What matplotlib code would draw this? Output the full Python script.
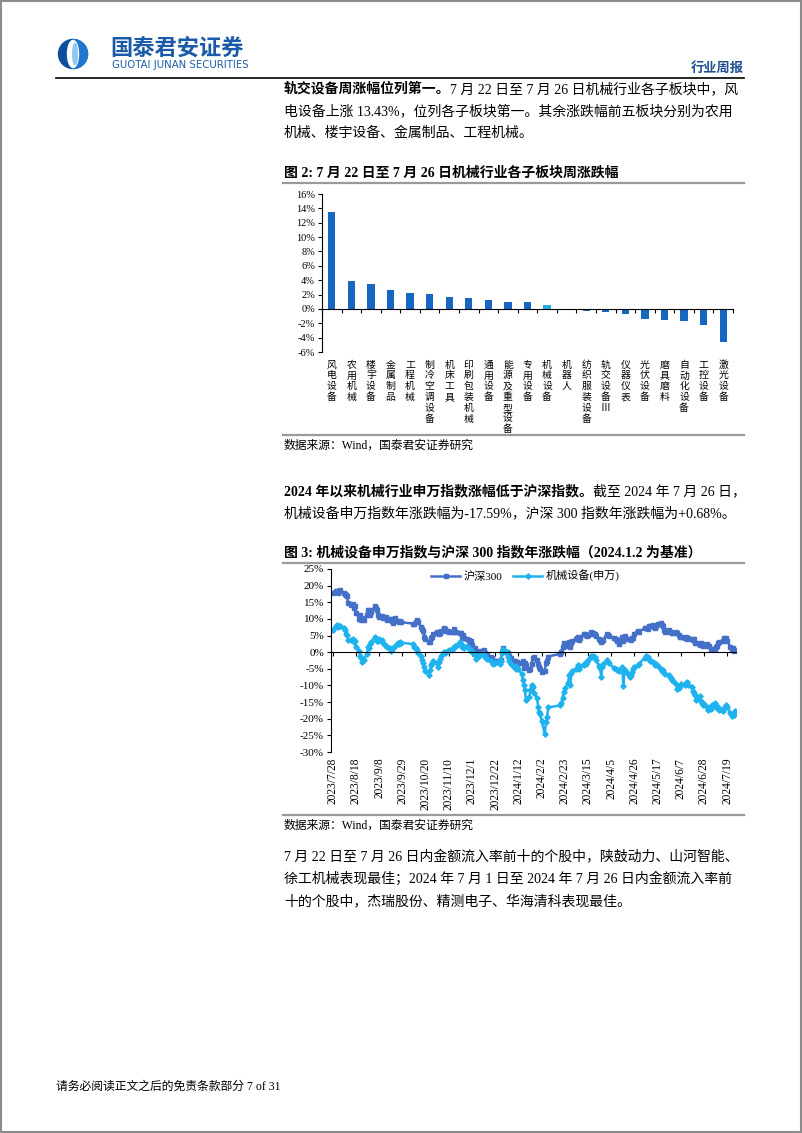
import numpy as np
import pandas as pd
import matplotlib
matplotlib.use('Agg')
import matplotlib.pyplot as plt
from matplotlib.patches import Circle, Ellipse, Wedge, Rectangle

W, H = 802, 1133
SERIF = ['Liberation Serif', 'Noto Sans CJK SC']
CJK = ['Noto Sans CJK SC', 'DejaVu Sans']

# 图2: 各子板块周涨跌幅 (%)
sectors = ['风电设备', '农用机械', '楼宇设备', '金属制品', '工程机械', '制冷空调设备', '机床工具',
           '印刷包装机械', '通用设备', '能源及重型设备', '专用设备', '机械设备', '机器人', '纺织服装设备',
           '轨交设备Ⅲ', '仪器仪表', '光伏设备', '磨具磨料', '自动化设备', '工控设备', '激光设备']
weekly_chg = [13.43, 3.9, 3.4, 2.7, 2.2, 2.1, 1.6, 1.45, 1.2, 0.98, 0.93, 0.6, 0.01, -0.3,
              -0.4, -0.65, -1.4, -1.5, -1.7, -2.2, -4.6]
highlight = '机械设备'

# 图3: 年涨跌幅 (%), 按月份列出交易日数值
holidays = ['2023-09-29', '2023-10-02', '2023-10-03', '2023-10-04', '2023-10-05', '2023-10-06',
            '2024-01-01', '2024-02-09', '2024-02-12', '2024-02-13', '2024-02-14', '2024-02-15',
            '2024-02-16', '2024-04-04', '2024-04-05', '2024-05-01', '2024-05-02', '2024-05-03',
            '2024-06-10']
hs300 = [
    [17.9, 18.5],
    [18.4, 17.9, 18.3, 18.6, 17.9, 17.6, 17.1, 16.9, 14.8, 14.2, 14.5, 13.4, 14.0, 11.9, 10.1, 11.2,
     9.6, 10.3, 9.6, 11.2, 12.7, 12.6, 11.3],
    [12.2, 13.8, 13.3, 12.8, 11.3, 10.5, 10.9, 10.3, 10.2, 10.6, 9.6, 9.9, 10.0, 9.3, 8.9, 10.4, 9.4,
     9.0, 9.5, 9.0],
    [8.6, 8.6, 9.1, 9.7, 9.0, 7.7, 7.0, 6.4, 4.6, 4.0, 3.0, 3.2, 4.2, 4.6, 5.6, 6.0, 5.8],
    [5.6, 5.9, 6.5, 7.2, 7.0, 6.5, 6.3, 6.0, 6.2, 6.2, 7.0, 6.0, 6.1, 5.8, 5.8, 4.6, 5.2, 4.2, 3.9,
     3.6, 3.1, 3.3],
    [2.2, 1.2, -0.1, 0.2, -0.2, 0.4, 0.5, 0.8, -0.3, -1.0, -0.7, -1.5, -1.7, -3.2, -2.7, -2.8, -2.5,
     -2.9, -2.4, 0.2, 1.3],
    [0.0, -0.2, -1.1, -1.6, -2.8, -2.5, -3.3, -2.9, -3.3, -3.3, -2.8, -4.8, -3.4, -3.8, -5.5, -5.1,
     -3.7, -1.7, -1.3, -2.2, -3.7, -4.6],
    [-5.2, -6.1, -5.6, -3.4, -2.6, -1.3, -0.5, 0.2, 1.6, 2.8, 2.5, 1.9, 3.1, 1.6, 2.9],
    [3.4, 3.9, 4.4, 4.6, 3.8, 4.2, 5.6, 5.6, 5.1, 4.8, 5.3, 6.0, 5.6, 5.8, 5.5, 4.9, 4.0, 3.8, 3.0,
     3.4, 3.8],
    [5.6, 5.2, 4.9, 4.3, 4.0, 3.3, 3.6, 2.5, 4.5, 3.5, 4.2, 4.8, 4.0, 4.1, 3.6, 4.4, 4.3, 5.6, 6.5,
     6.1],
    [7.4, 7.3, 7.0, 8.0, 7.8, 8.2, 7.6, 7.2, 7.9, 8.6, 8.9, 8.3, 7.9, 6.8, 6.2, 6.6, 6.2, 6.0, 5.7,
     5.9],
    [6.1, 5.8, 5.2, 4.6, 4.5, 4.4, 4.6, 4.1, 4.4, 4.0, 3.8, 3.9, 2.8, 2.7, 2.3, 2.9, 2.6, 1.9, 2.3],
    [2.6, 2.0, 1.8, 0.9, 1.0, 0.9, 1.6, 1.8, 2.9, 3.1, 3.4, 4.3, 4.0, 4.4, 3.3, 1.6, 1.0, 1.3, 0.5,
     0.68],
]
jixie = [
    [6.8, 7.9],
    [8.1, 7.6, 7.8, 7.9, 7.2, 6.8, 5.6, 5.2, 3.8, 3.6, 3.9, 3.0, 3.5, 1.6, 0.3, -1.0, -1.8, -3.1,
     -2.4, -0.6, 1.5, 1.2, 2.4],
    [3.2, 4.5, 4.0, 3.4, 3.5, 3.9, 3.6, 2.8, 2.2, 2.0, 1.6, 1.2, 0.4, 1.0, 1.4, 2.0, 2.9, 2.6, 3.0,
     2.9],
    [2.4, 1.6, 1.2, 0.8, -0.3, -1.2, -2.2, -3.4, -4.6, -5.8, -6.8, -5.5, -4.0, -3.2, -2.6, -3.4, -4.5],
    [-3.0, -1.9, -1.0, 0.2, -0.2, 0.1, 0.5, 0.8, 0.6, 1.2, 1.6, 1.9, 2.0, 3.2, 2.5, 1.6, 1.9, 1.4,
     1.9, 1.3, 0.8, 0.5],
    [0.0, -0.8, -1.9, -1.2, -1.0, -0.5, -0.6, -0.9, -1.3, -1.8, -2.0, -2.6, -2.5, -3.6, -3.2, -3.4,
     -3.0, -3.7, -2.5, -0.3, 0.9],
    [0.0, -1.4, -2.8, -3.6, -4.6, -4.2, -5.2, -4.4, -5.0, -6.5, -8.3, -10.0, -11.5, -14.5, -13.6,
     -11.4, -9.8, -10.4, -12.2, -13.8, -16.6, -18.0],
    [-18.6, -20.6, -24.7, -21.0, -19.6, -16.6, -16.0, -15.2, -13.8, -12.0, -10.8, -9.4, -6.8, -10.0,
     -6.4],
    [-5.6, -5.2, -4.9, -4.0, -5.0, -4.3, -3.8, -3.2, -3.6, -3.0, -2.4, -1.2, -1.5, -1.0, -1.4, -2.2,
     -4.2, -4.8, -7.4, -4.6, -3.6],
    [-2.3, -2.9, -3.4, -4.8, -5.1, -5.5, -5.3, -5.7, -4.6, -10.1, -5.8, -5.4, -6.4, -7.5, -6.8, -6.0,
     -5.0, -4.5, -3.8, -3.5],
    [-1.6, -1.0, -1.5, -1.9, -2.5, -3.0, -3.4, -3.9, -3.5, -4.2, -5.0, -5.6, -5.4, -6.2, -6.6, -7.0,
     -7.6, -7.8, -8.4, -8.8],
    [-9.6, -11.0, -10.8, -10.2, -9.6, -10.0, -9.4, -9.1, -9.8, -10.6, -11.8, -12.4, -13.0, -14.4,
     -13.2, -14.6, -15.3, -16.0, -15.5],
    [-16.6, -17.3, -16.8, -17.2, -16.0, -15.4, -16.3, -16.9, -16.4, -17.3, -17.6, -16.9, -16.5,
     -16.0, -16.5, -18.3, -19.2, -18.6, -18.9, -17.59],
]

days = pd.bdate_range('2023-07-28', '2024-07-26')
days = days[~days.isin(pd.to_datetime(holidays))]
hs = np.concatenate(hs300)
jx = np.concatenate(jixie)

fig = plt.figure(figsize=(W / 100, H / 100), dpi=100)
page = fig.add_axes([0, 0, 1, 1])
page.set_xlim(0, W)
page.set_ylim(H, 0)
page.axis('off')
renderer = fig.canvas.get_renderer()

# 页面边框
page.add_patch(Rectangle((0.7, 0.7), W - 1.4, H - 1.4, fill=False, ec='#8c8c8c', lw=1.5))

# 页眉: logo
page.add_patch(Circle((73, 54), 14.5, color='#0d4f9e'))
page.add_patch(Wedge((73, 54), 14.5, -90, 90, color='#1f78cf'))
page.add_patch(Ellipse((73, 54), 11, 27, color='white'))
page.add_patch(Ellipse((75, 54), 4.5, 21, color='#8fc8ef'))
page.text(110, 49.5, '国泰君安证券', fontsize=16, family=CJK, weight='bold', color='#1a5aa8',
          va='center', ha='left')
page.text(112, 65.5, 'GUOTAI JUNAN SECURITIES', fontsize=7.3, family=['DejaVu Sans'], color='#1a5aa8',
          va='center', ha='left')
page.text(744, 68, '行业周报', fontsize=9.5, family=CJK, weight='bold', color='#1d4f91',
          va='center', ha='right')
page.plot([56, 744], [77.5, 77.5], color='black', lw=1.2)


def put_line(x, y, parts, size=10.0):
    for txt, bold in parts:
        t = page.text(x, y, txt, fontsize=size, family=SERIF, weight='bold' if bold else 'normal',
                      va='baseline', ha='left', color='black')
        bb = t.get_window_extent(renderer)
        x = page.transData.inverted().transform((bb.x1, bb.y0))[0]


put_line(284, 93, [('轨交设备周涨幅位列第一。', True), ('7 月 22 日至 7 月 26 日机械行业各子板块中，风', False)])
put_line(284, 115, [('电设备上涨 13.43%，位列各子板块第一。其余涨跌幅前五板块分别为农用', False)])
put_line(284, 137, [('机械、楼宇设备、金属制品、工程机械。', False)])

put_line(284, 177, [('图 2: 7 月 22 日至 7 月 26 日机械行业各子板块周涨跌幅', True)], size=10)
page.plot([283, 744], [183, 183], color='#9a9a9a', lw=1.6)
page.plot([283, 744], [435, 435], color='#9a9a9a', lw=1.6)
put_line(284, 449, [('数据来源：Wind，国泰君安证券研究', False)], size=8.5)

put_line(284, 495, [('2024 年以来机械行业申万指数涨幅低于沪深指数。', True), ('截至 2024 年 7 月 26 日，', False)])
put_line(284, 517, [('机械设备申万指数年涨跌幅为-17.59%，沪深 300 指数年涨跌幅为+0.68%。', False)])

put_line(284, 556, [('图 3: 机械设备申万指数与沪深 300 指数年涨跌幅（2024.1.2 为基准）', True)], size=10)
page.plot([283, 744], [563, 563], color='#9a9a9a', lw=1.6)
page.plot([283, 744], [815, 815], color='#9a9a9a', lw=1.6)
put_line(284, 829, [('数据来源：Wind，国泰君安证券研究', False)], size=8.5)

put_line(284, 861, [('7 月 22 日至 7 月 26 日内金额流入率前十的个股中，陕鼓动力、山河智能、', False)])
put_line(284, 883, [('徐工机械表现最佳；2024 年 7 月 1 日至 2024 年 7 月 26 日内金额流入率前', False)])
put_line(284, 905, [('十的个股中，杰瑞股份、精测电子、华海清科表现最佳。', False)])

put_line(56, 1090, [('请务必阅读正文之后的免责条款部分 7 of 31', False)], size=8.5)


def box(l, t, r, b):
    return [l / W, 1 - b / H, (r - l) / W, (b - t) / H]


# 图2 柱状图
ax1 = fig.add_axes(box(322, 194, 733, 352))
cols = ['#26ade4' if s == highlight else '#1767c1' for s in sectors]
ax1.bar(np.arange(len(sectors)), weekly_chg, width=0.37, color=cols)
ax1.set_xlim(-0.5, len(sectors) - 0.5)
ax1.set_ylim(-6, 16)
ax1.set_yticks(np.arange(-6, 17, 2))
ax1.set_yticklabels([f'{v}%' for v in range(-6, 17, 2)], family=SERIF, fontsize=7.5)
for s in ['top', 'right']:
    ax1.spines[s].set_visible(False)
ax1.spines['bottom'].set_position(('data', 0))
ax1.spines['left'].set_linewidth(0.8)
ax1.spines['bottom'].set_linewidth(0.8)
ax1.tick_params(axis='y', direction='out', length=3, width=0.8, pad=2)
ax1.set_xticks(np.arange(len(sectors) + 1) - 0.5)
ax1.set_xticklabels([])
ax1.tick_params(axis='x', which='major', direction='out', length=3, width=0.8)
ax1.set_xticks(np.arange(len(sectors)), ['\n'.join(s) for s in sectors], minor=True)
ax1.tick_params(axis='x', which='minor', length=0, pad=36.5)
for lab in ax1.get_xticklabels(minor=True):
    lab.set_family(CJK)
    lab.set_fontsize(7.1)
    lab.set_linespacing(1.1)

# 图3 折线图
ax2 = fig.add_axes(box(331, 569, 736, 752))
ax2.plot(days, hs, color='#4470c8', lw=1.8, marker='s', ms=3.4, mec='#4470c8', label='沪深300')
ax2.plot(days, jx, color='#1eb2ee', lw=1.8, marker='D', ms=2.7, mec='#1eb2ee', label='机械设备(申万)')
ax2.set_xlim(pd.Timestamp('2023-07-26 12:00'), pd.Timestamp('2024-07-27'))
ax2.set_ylim(-30, 25)
ax2.set_yticks(np.arange(-30, 26, 5))
ax2.set_yticklabels([f'{v}%' for v in range(-30, 26, 5)], family=SERIF, fontsize=8)
for s in ['top', 'right']:
    ax2.spines[s].set_visible(False)
ax2.spines['bottom'].set_position(('data', 0))
ax2.spines['left'].set_linewidth(0.8)
ax2.spines['bottom'].set_linewidth(0.8)
ax2.tick_params(axis='y', direction='out', length=3, width=0.8, pad=2)
xt = pd.date_range('2023-07-28', periods=18, freq='21D')
ax2.set_xticks(xt)
ax2.set_xticklabels([f'{d.year}/{d.month}/{d.day}' for d in xt], rotation=90, family=SERIF, fontsize=8.3)
ax2.tick_params(axis='x', direction='out', length=3, width=0.8, pad=73)
leg = ax2.legend(loc='upper center', bbox_to_anchor=(0.48, 1.05), ncol=2, frameon=False,
                 prop={'family': SERIF, 'size': 8}, handlelength=2.6, columnspacing=1.0,
                 handletextpad=0.3)

fig.savefig('out.png', dpi=100)
